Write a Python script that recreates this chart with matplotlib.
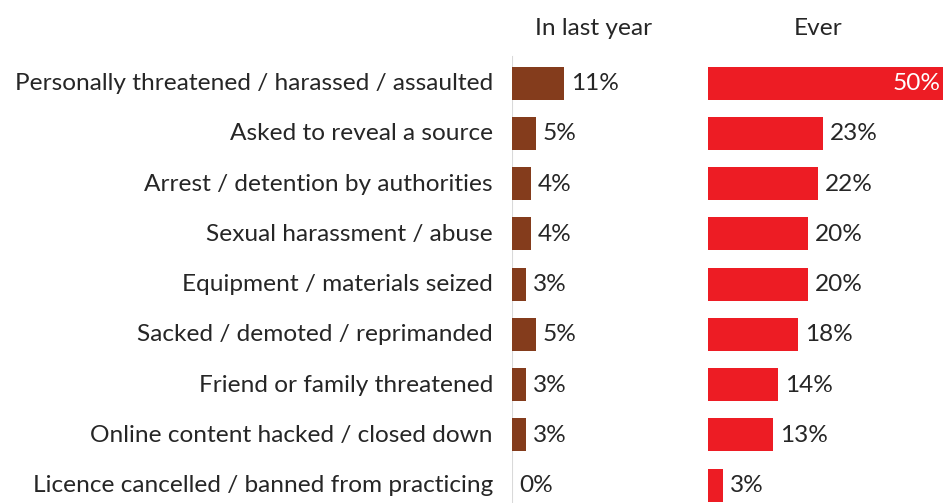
import matplotlib
matplotlib.use("Agg")
import matplotlib.pyplot as plt

plt.rcParams['font.family'] = ['Lato', 'DejaVu Sans']

categories = [
    "Personally threatened / harassed / assaulted",
    "Asked to reveal a source",
    "Arrest / detention by authorities",
    "Sexual harassment / abuse",
    "Equipment / materials seized",
    "Sacked / demoted / reprimanded",
    "Friend or family threatened",
    "Online content hacked / closed down",
    "Licence cancelled / banned from practicing",
]
last_year = [11, 5, 4, 4, 3, 5, 3, 3, 0]
ever = [50, 23, 22, 20, 20, 18, 14, 13, 3]
panel_titles = ["In last year", "Ever"]

W, H = 943, 503
DPI = 100
fig = plt.figure(figsize=(W / DPI, H / DPI), dpi=DPI)

text_color = "#262626"
brown = "#843C1C"
red = "#ED1C24"
fs = 17.6


def px(v):
    """pixels -> points"""
    return v * 72 / DPI


# row layout in pixels
first_row_px = 83
row_step_px = 50.25
ylim = ((H - first_row_px) / row_step_px, (0 - first_row_px) / row_step_px)
bar_h = 33 / row_step_px
ypos = list(range(len(categories)))
base_drop = px(-7)  # baseline sits a little below the row centre

# left panel
lx0 = 512
ax1 = fig.add_axes([lx0 / W, 0, (700 - lx0) / W, 1])
ax1.set_xlim(0, (700 - lx0) / 4.7)
ax1.set_ylim(*ylim)
ax1.barh(ypos, last_year, height=bar_h, color=brown)
for y, v in zip(ypos, last_year):
    ax1.annotate(f"{v}%", (v, y), xytext=(px(7), base_drop), textcoords="offset points",
                 va="baseline", ha="left", fontsize=fs, color=text_color)
for y, c in zip(ypos, categories):
    ax1.annotate(c, (0, y), xytext=(px(-19), base_drop), textcoords="offset points",
                 va="baseline", ha="right", fontsize=fs, color=text_color,
                 annotation_clip=False)
ax1.set_xticks([])
ax1.set_yticks([])
for s in ax1.spines.values():
    s.set_visible(False)
ax1.axvline(0, ymin=0, ymax=(H - 57) / H, color="#d9d9d9", lw=1.5, zorder=0)
ax1.patch.set_alpha(0)

# right panel
rx0 = 708
ax2 = fig.add_axes([rx0 / W, 0, (W - rx0) / W, 1])
ax2.set_xlim(0, (W - rx0) / 5.0)
ax2.set_ylim(*ylim)
ax2.barh(ypos, ever, height=bar_h, color=red)
xmax = ax2.get_xlim()[1]
for y, v in zip(ypos, ever):
    if v > xmax:
        ax2.annotate(f"{v}%", (xmax, y), xytext=(px(-2), base_drop), textcoords="offset points",
                     va="baseline", ha="right", fontsize=fs, color="white")
    else:
        ax2.annotate(f"{v}%", (v, y), xytext=(px(7), base_drop), textcoords="offset points",
                     va="baseline", ha="left", fontsize=fs, color=text_color)
ax2.set_xticks([])
ax2.set_yticks([])
for s in ax2.spines.values():
    s.set_visible(False)
ax2.patch.set_alpha(0)

fig.text(594 / W, 1 - 35 / H, panel_titles[0], ha="center", va="baseline",
         fontsize=fs, color=text_color)
fig.text(818 / W, 1 - 35 / H, panel_titles[1], ha="center", va="baseline",
         fontsize=fs, color=text_color)

fig.savefig("out.png", dpi=DPI)
